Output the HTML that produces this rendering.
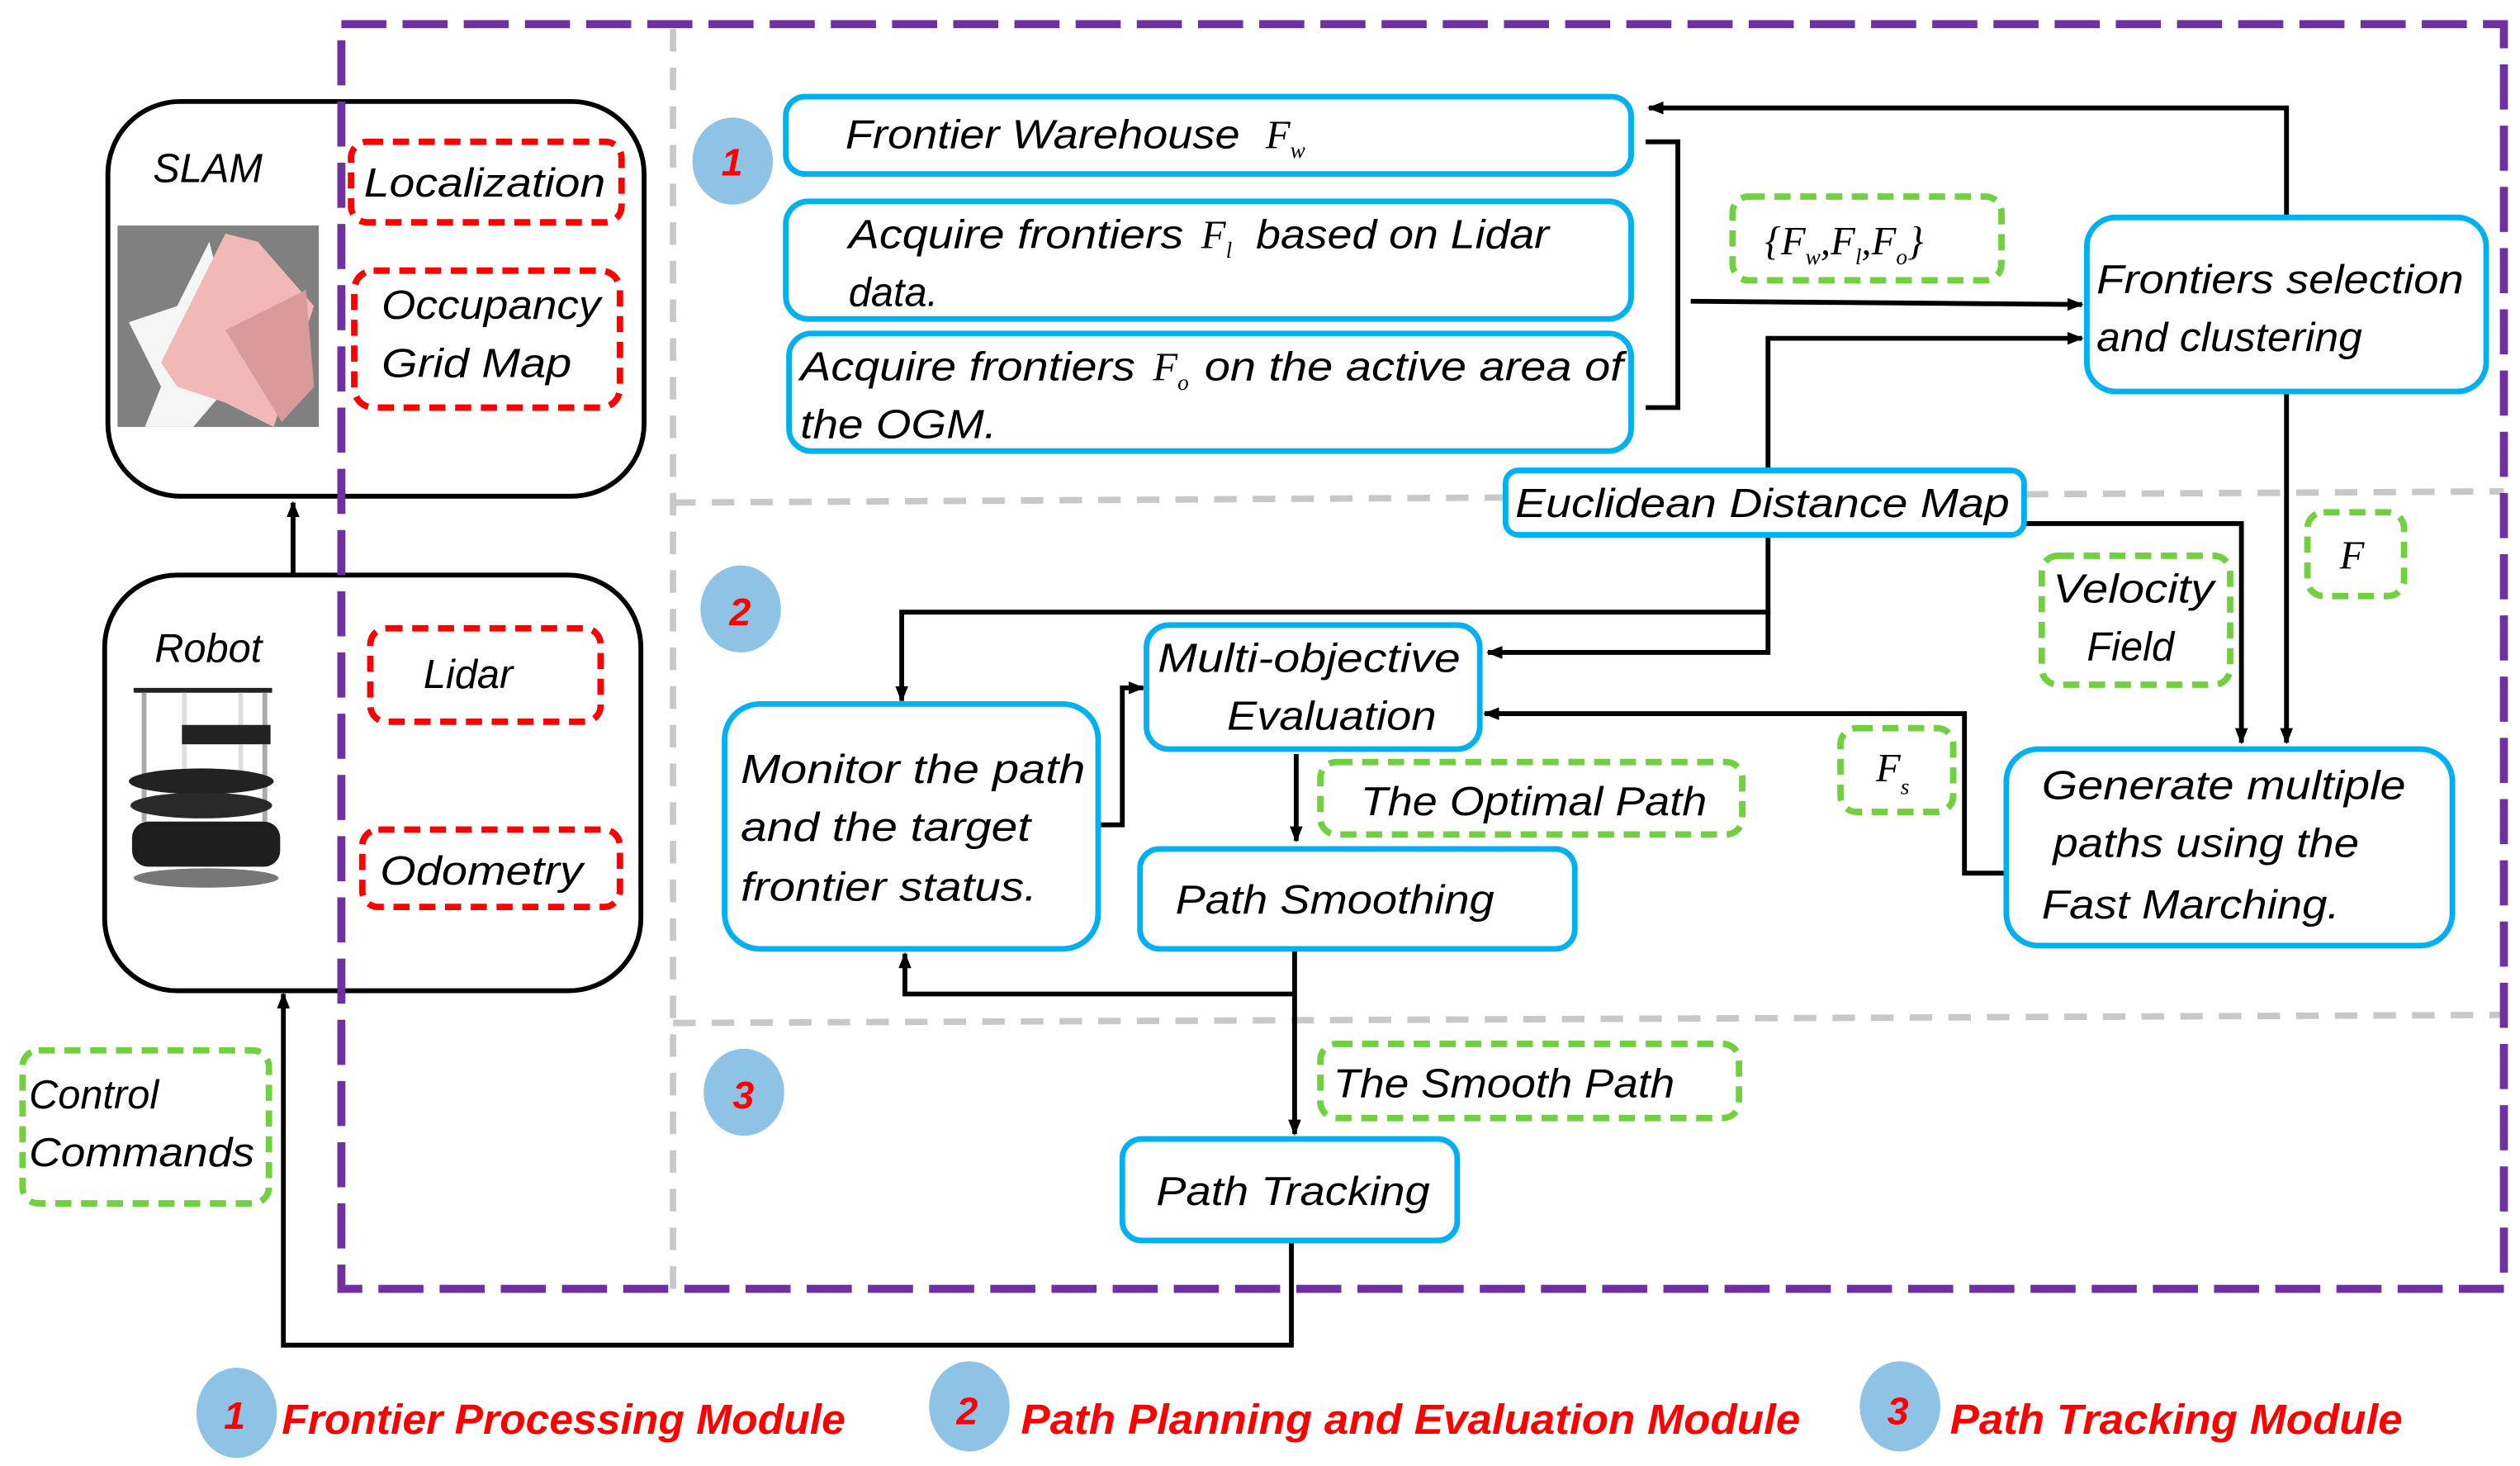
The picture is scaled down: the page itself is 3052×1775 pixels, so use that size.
<!DOCTYPE html>
<html><head><meta charset="utf-8"><style>
html,body{margin:0;padding:0;background:#fff;}
svg{display:block;}
text{font-family:"Liberation Sans",sans-serif;font-style:italic;font-size:25px;fill:#000;}
.m{font-family:"Liberation Serif",serif;}
.leg{fill:#ff0000;font-weight:bold;font-size:26px;}
.num{fill:#ff0000;font-weight:bold;font-size:24px;}
</style></head><body>
<svg width="3052" height="1775" viewBox="0 0 1565 910" preserveAspectRatio="none" xmlns="http://www.w3.org/2000/svg">
<defs>
<marker id="a" markerWidth="10" markerHeight="10" refX="9" refY="5" orient="auto" markerUnits="userSpaceOnUse"><path d="M0,1 L10,5 L0,9 z" fill="#000"/></marker>
</defs>
<rect width="1565" height="910" fill="#fff"/>
<!-- gray dashed -->
<g stroke="#c8c8c8" stroke-width="4" stroke-dasharray="14,10" fill="none">
<line x1="418" y1="18" x2="418" y2="800"/>
<polyline points="418,312 1555,305"/>
<polyline points="418,635 1555,630"/>
</g>
<!-- SLAM & Robot boxes -->
<rect x="67" y="63" width="333" height="245" rx="45" fill="#fff" stroke="#000" stroke-width="3"/>
<rect x="65" y="357" width="333" height="258" rx="45" fill="#fff" stroke="#000" stroke-width="3"/>
<!-- SLAM image -->
<rect x="73" y="140" width="125" height="125" fill="#808080"/>
<polygon points="80,200 110,190 130,150 150,230 120,265 90,265 100,240" fill="#f5f5f5"/>
<polygon points="100,225 140,145 160,150 195,190 170,265 140,250 110,240" fill="#f2b8b8"/>
<polygon points="140,205 190,180 195,240 175,262" fill="#d99a9a"/>
<text x="95" y="113">SLAM</text>
<text x="96" y="411">Robot</text>
<!-- robot image -->
<g>
<rect x="83" y="427" width="86" height="3" fill="#222"/>
<rect x="88" y="430" width="3" height="80" fill="#aaa"/><rect x="163" y="430" width="3" height="80" fill="#aaa"/>
<rect x="113" y="430" width="3" height="60" fill="#ddd"/><rect x="148" y="430" width="3" height="60" fill="#ddd"/>
<rect x="113" y="450" width="55" height="12" fill="#222"/>
<ellipse cx="125" cy="485" rx="45" ry="8" fill="#222"/>
<ellipse cx="125" cy="500" rx="44" ry="8" fill="#2a2a2a"/>
<rect x="82" y="510" width="92" height="28" rx="10" fill="#1e1e1e"/>
<ellipse cx="128" cy="545" rx="45" ry="6" fill="#777"/>
</g>
<!-- red dashed -->
<g stroke="#ff0000" stroke-width="4" stroke-dasharray="10,6" fill="#fff">
<rect x="218" y="88" width="168" height="50" rx="10"/>
<rect x="220" y="168" width="165" height="85" rx="12"/>
<rect x="230" y="390" width="143" height="58" rx="10"/>
<rect x="225" y="515" width="160" height="48" rx="10"/>
</g>
<text x="226" y="122" textLength="150" lengthAdjust="spacingAndGlyphs">Localization</text>
<text x="237" y="198" textLength="136" lengthAdjust="spacingAndGlyphs">Occupancy</text>
<text x="237" y="234" textLength="118" lengthAdjust="spacingAndGlyphs">Grid Map</text>
<text x="263" y="427">Lidar</text>
<text x="236" y="549" textLength="126" lengthAdjust="spacingAndGlyphs">Odometry</text>
<!-- purple frame -->
<g stroke="#7030a0" stroke-width="5" stroke-dasharray="28,10" fill="none">
<polyline points="212,15 1555,15 1555,800 212,800 212,15"/>
</g>
<!-- green dashed -->
<g stroke="#70d040" stroke-width="4" stroke-dasharray="10,6" fill="#fff">
<rect x="14" y="652" width="153" height="95" rx="10"/>
<rect x="1076" y="122" width="167" height="52" rx="10"/>
<rect x="1433" y="318" width="60" height="52" rx="10"/>
<rect x="1268" y="345" width="117" height="80" rx="10"/>
<rect x="1143" y="452" width="70" height="52" rx="10"/>
<rect x="820" y="473" width="262" height="45" rx="10"/>
<rect x="820" y="648" width="260" height="46" rx="10"/>
</g>
<text x="18" y="688">Control</text>
<text x="18" y="724" textLength="140" lengthAdjust="spacingAndGlyphs">Commands</text>
<text class="m" x="1096" y="158">{F<tspan font-size="14" dy="6">w</tspan><tspan dy="-6">,F</tspan><tspan font-size="14" dy="6">l</tspan><tspan dy="-6">,F</tspan><tspan font-size="14" dy="6">o</tspan><tspan dy="-6">}</tspan></text>
<text class="m" x="1453" y="353">F</text>
<text x="1275" y="374" textLength="100" lengthAdjust="spacingAndGlyphs">Velocity</text>
<text x="1296" y="410">Field</text>
<text class="m" x="1165" y="485">F<tspan font-size="14" dy="8">s</tspan></text>
<text x="845" y="506" textLength="215" lengthAdjust="spacingAndGlyphs">The Optimal Path</text>
<text x="828" y="681" textLength="212" lengthAdjust="spacingAndGlyphs">The Smooth Path</text>
<!-- connectors -->
<g stroke="#000" stroke-width="3" fill="none">
<line x1="182" y1="357" x2="182" y2="312" marker-end="url(#a)"/>
<polyline points="802,770 802,835 176,835 176,617" marker-end="url(#a)"/>
<polyline points="1022,88 1042,88 1042,253 1022,253"/>
<line x1="1050" y1="187" x2="1293" y2="189" marker-end="url(#a)"/>
<polyline points="1420,135 1420,67 1024,67" marker-end="url(#a)"/>
<polyline points="1098,292 1098,210 1293,210" marker-end="url(#a)"/>
<polyline points="1098,332 1098,380 560,380 560,435" marker-end="url(#a)"/>
<polyline points="1098,380 1098,405 924,405" marker-end="url(#a)"/>
<polyline points="1257,325 1392,325 1392,461" marker-end="url(#a)"/>
<line x1="1420" y1="243" x2="1420" y2="461" marker-end="url(#a)"/>
<polyline points="682,512 697,512 697,427 710,427" marker-end="url(#a)"/>
<polyline points="1246,542 1220,542 1220,443 922,443" marker-end="url(#a)"/>
<line x1="805" y1="468" x2="805" y2="522" marker-end="url(#a)"/>
<line x1="804" y1="589" x2="804" y2="704" marker-end="url(#a)"/>
<polyline points="804,617 562,617 562,592" marker-end="url(#a)"/>
</g>
<!-- blue boxes -->
<g stroke="#00b0f0" stroke-width="3.5" fill="#fff">
<rect x="488" y="60" width="525" height="48" rx="12"/>
<rect x="488" y="125" width="525" height="73" rx="14"/>
<rect x="490" y="207" width="523" height="73" rx="14"/>
<rect x="1296" y="135" width="248" height="108" rx="18"/>
<rect x="935" y="292" width="322" height="40" rx="8"/>
<rect x="712" y="388" width="207" height="77" rx="14"/>
<rect x="450" y="437" width="232" height="152" rx="22"/>
<rect x="1246" y="465" width="277" height="122" rx="20"/>
<rect x="708" y="527" width="270" height="62" rx="12"/>
<rect x="697" y="707" width="208" height="63" rx="12"/>
</g>
<text x="525" y="92" textLength="245" lengthAdjust="spacingAndGlyphs">Frontier Warehouse</text>
<text class="m" x="786" y="92">F<tspan font-size="14" dy="6">w</tspan></text>
<text x="527" y="154" textLength="208" lengthAdjust="spacingAndGlyphs">Acquire frontiers</text>
<text class="m" x="746" y="154">F<tspan font-size="14" dy="6">l</tspan></text>
<text x="780" y="154" textLength="182" lengthAdjust="spacingAndGlyphs">based on Lidar</text>
<text x="527" y="190">data.</text>
<text x="497" y="236" textLength="208" lengthAdjust="spacingAndGlyphs">Acquire frontiers</text>
<text class="m" x="716" y="236">F<tspan font-size="14" dy="6">o</tspan></text>
<text x="748" y="236" textLength="260" lengthAdjust="spacingAndGlyphs">on the active area of</text>
<text x="497" y="272" textLength="122" lengthAdjust="spacingAndGlyphs">the OGM.</text>
<text x="1302" y="182" textLength="228" lengthAdjust="spacingAndGlyphs">Frontiers selection</text>
<text x="1302" y="218" textLength="165" lengthAdjust="spacingAndGlyphs">and clustering</text>
<text x="941" y="321" textLength="307" lengthAdjust="spacingAndGlyphs">Euclidean  Distance Map</text>
<text x="719" y="417" textLength="188" lengthAdjust="spacingAndGlyphs">Multi-objective</text>
<text x="762" y="453" textLength="130" lengthAdjust="spacingAndGlyphs">Evaluation</text>
<text x="460" y="486" textLength="214" lengthAdjust="spacingAndGlyphs">Monitor the path</text>
<text x="460" y="522" textLength="180" lengthAdjust="spacingAndGlyphs">and the target</text>
<text x="460" y="559" textLength="184" lengthAdjust="spacingAndGlyphs">frontier status.</text>
<text x="1268" y="496" textLength="226" lengthAdjust="spacingAndGlyphs">Generate multiple</text>
<text x="1275" y="532" textLength="190" lengthAdjust="spacingAndGlyphs">paths using the</text>
<text x="1268" y="570" textLength="185" lengthAdjust="spacingAndGlyphs">Fast Marching.</text>
<text x="730" y="567" textLength="198" lengthAdjust="spacingAndGlyphs">Path Smoothing</text>
<text x="718" y="748" textLength="170" lengthAdjust="spacingAndGlyphs">Path Tracking</text>
<!-- number circles -->
<g fill="#8fc3e6">
<ellipse cx="455" cy="100" rx="25" ry="27"/>
<ellipse cx="460" cy="378" rx="25" ry="27"/>
<ellipse cx="462" cy="678" rx="25" ry="27"/>
<ellipse cx="147" cy="877" rx="25" ry="28"/>
<ellipse cx="602" cy="873" rx="25" ry="28"/>
<ellipse cx="1180" cy="873" rx="25" ry="28"/>
</g>
<text class="num" x="448" y="109">1</text>
<text class="num" x="453" y="388">2</text>
<text class="num" x="455" y="688">3</text>
<text class="num" x="139" y="887">1</text>
<text class="num" x="594" y="884">2</text>
<text class="num" x="1172" y="884">3</text>
<text class="leg" x="175" y="890" textLength="350" lengthAdjust="spacingAndGlyphs">Frontier Processing Module</text>
<text class="leg" x="634" y="890" textLength="484" lengthAdjust="spacingAndGlyphs">Path Planning and Evaluation Module</text>
<text class="leg" x="1211" y="890" textLength="281" lengthAdjust="spacingAndGlyphs">Path Tracking Module</text>
</svg>
</body></html>
